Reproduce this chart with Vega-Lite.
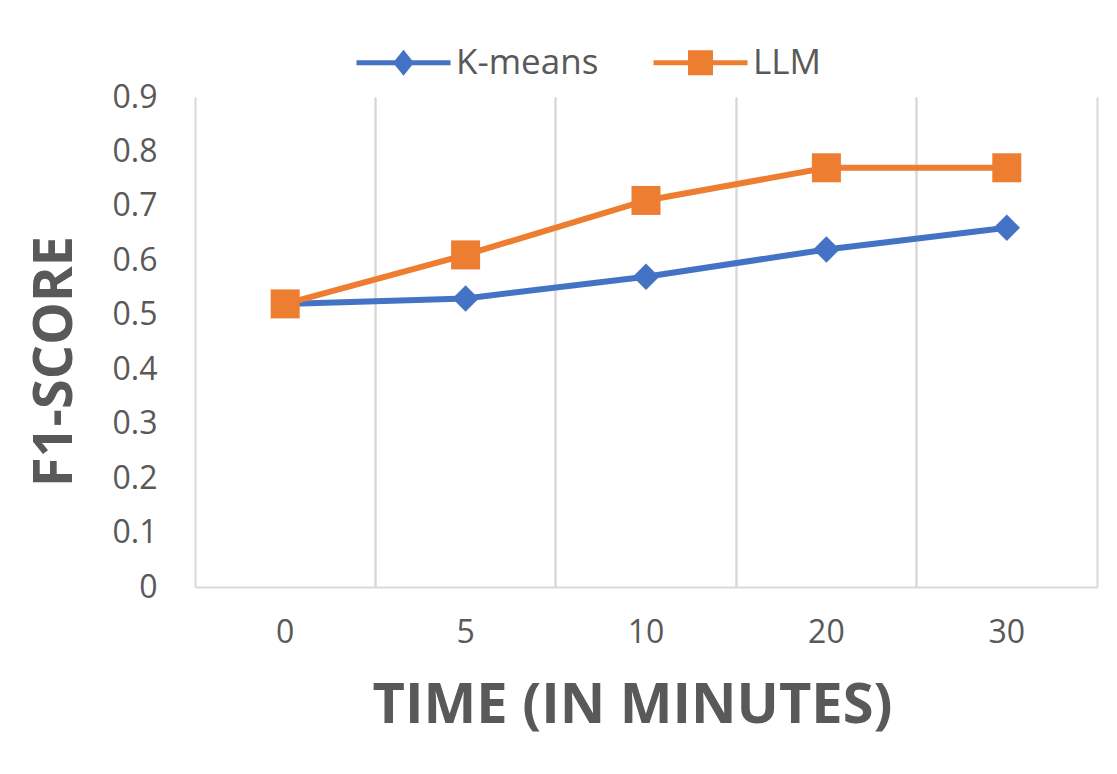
{
  "$schema": "https://vega.github.io/schema/vega-lite/v6.json",
  "autosize": "none",
  "width": 902,
  "height": 490,
  "padding": {"left": 195, "top": 97, "right": 20, "bottom": 187},
  "background": "white",
  "config": {
    "view": {"stroke": null},
    "font": "Open Sans",
    "axis": {"labelColor": "#595959", "titleColor": "#595959", "labelFont": "Open Sans", "titleFont": "Open Sans"}
  },
  "data": {
    "values": [
      {"time": "0", "series": "K-means", "f1": 0.52},
      {"time": "5", "series": "K-means", "f1": 0.53},
      {"time": "10", "series": "K-means", "f1": 0.57},
      {"time": "20", "series": "K-means", "f1": 0.62},
      {"time": "30", "series": "K-means", "f1": 0.66},
      {"time": "0", "series": "LLM", "f1": 0.52},
      {"time": "5", "series": "LLM", "f1": 0.61},
      {"time": "10", "series": "LLM", "f1": 0.71},
      {"time": "20", "series": "LLM", "f1": 0.77},
      {"time": "30", "series": "LLM", "f1": 0.77}
    ]
  },
  "encoding": {
    "y": {
      "field": "f1",
      "type": "quantitative",
      "scale": {"domain": [0, 0.9], "nice": false, "zero": true},
      "axis": {
        "values": [0, 0.1, 0.2, 0.3, 0.4, 0.5, 0.6, 0.7, 0.8, 0.9],
        "format": ".1~f",
        "grid": false,
        "domain": false,
        "ticks": false,
        "labelFontSize": 32,
        "labelPadding": 38,
        "title": "F1-SCORE",
        "titleFontSize": 54,
        "titleFontWeight": "bold",
        "titlePadding": 30,
        "titleY": 264
      }
    }
  },
  "layer": [
    {
      "transform": [{"filter": "datum.series === 'K-means'"}],
      "mark": {"type": "line", "strokeWidth": 6, "color": "#4472C4"},
      "encoding": {
        "x": {
          "field": "time",
          "type": "ordinal",
          "sort": ["0", "5", "10", "20", "30"],
          "bandPosition": 0.5,
          "scale": {"type": "band", "paddingInner": 0, "paddingOuter": 0},
          "axis": {
            "orient": "bottom",
            "grid": true,
            "bandPosition": 0,
            "gridColor": "#d9d9d9",
            "gridWidth": 2,
            "domain": true,
            "domainColor": "#d9d9d9",
            "domainWidth": 2,
            "ticks": false,
            "labelAngle": 0,
            "labelFontSize": 32,
            "labelPadding": 30,
            "title": "TIME (IN MINUTES)",
            "titleFontSize": 56,
            "titleFontWeight": "bold",
            "titlePadding": 30,
            "titleX": 437
          }
        }
      }
    },
    {
      "transform": [{"filter": "datum.series === 'LLM'"}],
      "mark": {"type": "line", "strokeWidth": 6, "color": "#ED7D31"},
      "encoding": {
        "x": {
          "field": "time",
          "type": "ordinal",
          "sort": ["0", "5", "10", "20", "30"],
          "bandPosition": 0.5,
          "axis": null
        }
      }
    },
    {
      "transform": [{"filter": "datum.series === 'K-means'"}],
      "mark": {"type": "point", "filled": true, "opacity": 1, "shape": "diamond", "size": 700, "color": "#4472C4"},
      "encoding": {
        "x": {
          "field": "time",
          "type": "ordinal",
          "sort": ["0", "5", "10", "20", "30"],
          "bandPosition": 0.5,
          "axis": {
            "orient": "top",
            "grid": true,
            "bandPosition": 1,
            "gridColor": "#d9d9d9",
            "gridWidth": 2,
            "domain": false,
            "ticks": false,
            "labels": false,
            "title": null
          }
        }
      }
    },
    {
      "transform": [{"filter": "datum.series === 'LLM'"}],
      "mark": {"type": "point", "filled": true, "opacity": 1, "shape": "square", "size": 841, "color": "#ED7D31"},
      "encoding": {
        "x": {
          "field": "time",
          "type": "ordinal",
          "sort": ["0", "5", "10", "20", "30"],
          "bandPosition": 0.5,
          "axis": null
        }
      }
    },
    {
      "mark": {"type": "point", "filled": true, "opacity": 0, "size": 400},
      "encoding": {
        "x": {
          "field": "time",
          "type": "ordinal",
          "sort": ["0", "5", "10", "20", "30"],
          "bandPosition": 0.5,
          "axis": null
        },
        "color": {
          "field": "series",
          "type": "nominal",
          "scale": {"domain": ["K-means", "LLM"], "range": ["#4472C4", "#ED7D31"]},
          "legend": {
            "title": null,
            "orient": "none",
            "direction": "horizontal",
            "legendX": 191,
            "legendY": -52,
            "symbolSize": 400,
            "symbolStrokeWidth": 0,
            "symbolOpacity": 1,
            "labelFontSize": 35,
            "labelColor": "#595959",
            "labelFont": "Open Sans",
            "labelOffset": 35,
            "columnPadding": 54
          }
        },
        "shape": {
          "field": "series",
          "type": "nominal",
          "scale": {"domain": ["K-means", "LLM"], "range": ["M-4.7,-0.26H4.7V0.26H-4.7Z M0,-1.3L1.05,0L0,1.3L-1.05,0Z", "M-4.7,-0.26H4.7V0.26H-4.7Z M-1.25,-1.25H1.25V1.25H-1.25Z"]},
          "legend": {
            "title": null,
            "orient": "none",
            "direction": "horizontal",
            "legendX": 191,
            "legendY": -52,
            "symbolSize": 400,
            "symbolStrokeWidth": 0,
            "symbolOpacity": 1,
            "labelFontSize": 35,
            "labelColor": "#595959",
            "labelFont": "Open Sans",
            "labelOffset": 35,
            "columnPadding": 54
          }
        }
      }
    }
  ],
  "resolve": {"axis": {"x": "independent"}}
}
